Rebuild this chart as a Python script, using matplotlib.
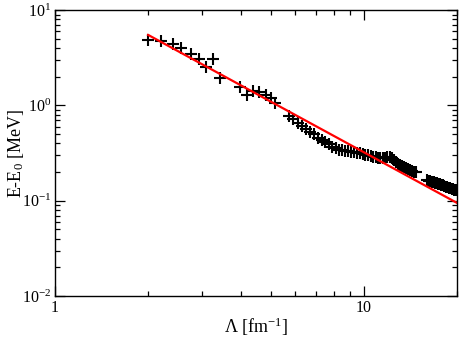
import matplotlib
matplotlib.use('Agg')
import matplotlib.pyplot as plt
from matplotlib.ticker import LogLocator, FixedLocator, NullFormatter

plt.rcParams['font.family'] = 'Liberation Serif'
plt.rcParams['mathtext.fontset'] = 'custom'
plt.rcParams['mathtext.rm'] = 'Liberation Serif'
plt.rcParams['mathtext.it'] = 'Liberation Serif:italic'

# energy differences vs cutoff
lam_low = [2.0, 2.2, 2.4, 2.55, 2.75, 2.92, 3.08, 3.25, 3.42, 3.97, 4.19, 4.38, 4.58, 4.80, 5.01, 5.17]
de_low = [4.84, 4.73, 4.40, 3.99, 3.45, 3.06, 2.52, 3.06, 1.93, 1.56, 1.28, 1.41, 1.38, 1.28, 1.19, 1.06]

lam_mid = [5.7, 5.9, 6.1, 6.3, 6.5, 6.7, 6.9, 7.1, 7.3, 7.5, 7.7, 7.9, 8.1, 8.3, 8.5, 8.7,
           8.9, 9.1, 9.3, 9.5, 9.7, 9.9, 10.1, 10.3, 10.5, 10.7, 10.9, 11.1, 11.3, 11.5, 11.7,
           11.9, 12.1, 12.3, 12.5, 12.7, 12.9, 13.1, 13.3, 13.5, 13.7, 13.9, 14.1, 14.3, 14.5, 14.7]
de_mid = [0.78, 0.72, 0.66, 0.61, 0.57, 0.53, 0.50, 0.46, 0.43, 0.41, 0.39, 0.37, 0.355, 0.345,
          0.34, 0.335, 0.33, 0.325, 0.322, 0.318, 0.314, 0.31, 0.305, 0.30, 0.295, 0.29, 0.285,
          0.282, 0.28, 0.28, 0.282, 0.285, 0.286, 0.284, 0.27, 0.255, 0.245, 0.238, 0.232, 0.226,
          0.22, 0.215, 0.21, 0.206, 0.202, 0.199]

lam_high = [16.0, 16.2, 16.4, 16.6, 16.8, 17.0, 17.2, 17.4, 17.6, 17.8,
            18.0, 18.2, 18.4, 18.6, 18.8, 19.0, 19.2, 19.4, 19.6, 19.8]
de_high = [0.166, 0.163, 0.161, 0.159, 0.157, 0.155, 0.153, 0.151, 0.149, 0.147,
           0.145, 0.143, 0.141, 0.139, 0.137, 0.136, 0.134, 0.133, 0.131, 0.130]

# power-law fit line
fit_lam = [2.0, 20.0]
fit_de = [5.5, 0.095]

fig = plt.figure(figsize=(4.63, 3.38), dpi=100)
ax = fig.add_axes([0.119, 0.124, 0.868, 0.846])

for xs, ys in [(lam_low, de_low), (lam_mid, de_mid), (lam_high, de_high)]:
    ax.plot(xs, ys, '+', color='black', markersize=8, markeredgewidth=1.5)
ax.plot(fit_lam, fit_de, '-', color='#ff0000', linewidth=1.6)

ax.set_xscale('log')
ax.set_yscale('log')
ax.set_xlim(1, 20)
ax.set_ylim(0.01, 10)

ax.xaxis.set_major_locator(FixedLocator([1, 10]))
ax.set_xticklabels(['1', '10'])
ax.xaxis.set_minor_locator(FixedLocator([2, 3, 4, 5, 6, 7, 8, 9, 20]))
ax.xaxis.set_minor_formatter(NullFormatter())
ax.yaxis.set_major_locator(FixedLocator([0.01, 0.1, 1, 10]))
ax.set_yticklabels(['$10^{-2}$', '$10^{-1}$', '$10^{0}$', '$10^{1}$'])
ax.yaxis.set_minor_locator(LogLocator(base=10, subs=[2, 3, 4, 5, 6, 7, 8, 9]))
ax.yaxis.set_minor_formatter(NullFormatter())

ax.tick_params(which='both', direction='in', top=True, right=True, labelsize=11.5, width=0.9)
ax.tick_params(which='major', length=7, pad=3)
ax.tick_params(which='minor', length=3.5)
for s in ax.spines.values():
    s.set_linewidth(1.0)

ax.set_xlabel('$\\Lambda$ [fm$^{-1}$]', fontsize=13)
ax.set_ylabel('E-E$_0$ [MeV]', fontsize=13)
ax.xaxis.set_label_coords(0.5, -0.068)
ax.yaxis.set_label_coords(-0.072, 0.5)

plt.savefig('out.png', dpi=100)
